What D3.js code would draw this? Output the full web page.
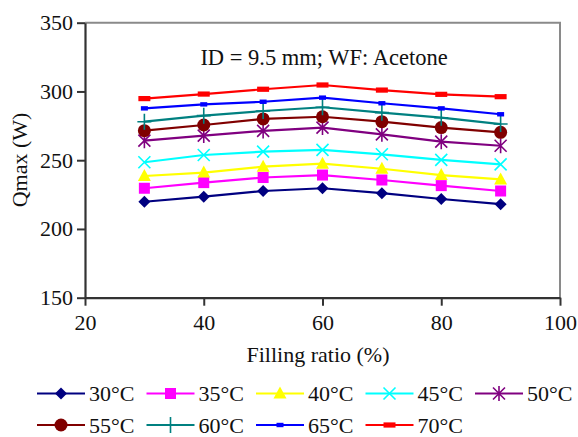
<!DOCTYPE html>
<html><head><meta charset="utf-8">
<script src="https://cdn.jsdelivr.net/npm/d3@7"></script>
<style>
body{margin:0;background:#fff}
</style>
</head><body><svg id="c" width="578" height="437"></svg>
<script>
const fillingRatio = [30, 40, 50, 60, 70, 80, 90];
const seriesNames = ["30°C","35°C","40°C","45°C","50°C","55°C","60°C","65°C","70°C"];
const q30 = [219.8, 223.5, 227.6, 229.6, 226.0, 221.8, 218.0];
const q35 = [229.6, 233.7, 237.4, 239.2, 235.6, 231.5, 227.6];
const q40 = [238.5, 241.0, 245.3, 247.5, 243.8, 239.2, 236.0];
const q45 = [248.5, 253.8, 256.2, 257.5, 254.3, 250.2, 247.0];
const q50 = [264.2, 267.9, 271.3, 273.7, 268.8, 263.5, 260.5];
const q55 = [271.5, 275.6, 280.0, 281.6, 278.0, 273.7, 270.3];
const q60 = [278.0, 282.4, 285.8, 288.5, 284.6, 280.9, 276.3];
const q65 = [287.7, 290.6, 292.5, 295.5, 291.4, 287.7, 283.4];
const q70 = [294.8, 298.1, 301.6, 304.7, 301.0, 297.9, 296.2];
const seriesValues = [q30, q35, q40, q45, q50, q55, q60, q65, q70];
const seriesColors = ["#000080","#ff00ff","#ffff00","#00ffff","#800080","#800000","#008080","#0000ff","#ff0000"];
const markerTypes = ["diamond","square","triangle","cross","star","circle","plus","dash","bar"];
const xTicks = [20, 40, 60, 80, 100];
const yTicks = [150, 200, 250, 300, 350];
const titleText = "ID = 9.5 mm; WF: Acetone";
const xTitle = "Filling ratio (%)";
const yTitle = "Qmax (W)";

const FONT = "'Liberation Serif', 'Times New Roman', Tinos, 'DejaVu Serif', serif";
const svg = d3.select("#c");
const L = 85, R = 560, T = 22.7, B = 297.7;
const x = d3.scaleLinear().domain([20, 100]).range([L, R]);
const y = d3.scaleLinear().domain([150, 350]).range([B, T]);

function txt(sel, size) {
  return sel.attr("font-family", FONT).style("font-family", FONT)
    .style("font-size", size + "px").attr("fill", "#111");
}

svg.append("path").attr("d", `M${L},${T}H${R}V${B}`).attr("fill","none")
  .attr("stroke","#8a8a8a").attr("stroke-width",2);

const ax = svg.append("g").attr("transform",`translate(0,${B})`)
  .call(d3.axisBottom(x).tickValues(xTicks).tickSize(8).tickSizeOuter(0).tickPadding(6));
const ay = svg.append("g").attr("transform",`translate(${L},0)`)
  .call(d3.axisLeft(y).tickValues(yTicks).tickSize(8).tickSizeOuter(0).tickPadding(4));
[ax, ay].forEach(g => {
  g.attr("font-family", FONT);
  g.select(".domain").attr("stroke","#333").attr("stroke-width",2.2);
  g.selectAll(".tick line").attr("stroke","#333").attr("stroke-width",2);
  txt(g.selectAll(".tick text"), 22);
});
ax.selectAll(".tick text").attr("dy","0.85em");

txt(svg.append("text").attr("x", 324).attr("y", 64.5).attr("text-anchor","middle"), 22.5).text(titleText);
txt(svg.append("text").attr("x", 318).attr("y", 362).attr("text-anchor","middle"), 22).text(xTitle);
txt(svg.append("text").attr("transform","translate(27,160) rotate(-90)").attr("text-anchor","middle"), 22).text(yTitle);

function drawMarker(g, type, color, cx, cy) {
  const m = g.append("g").attr("transform",`translate(${cx},${cy})`);
  switch (type) {
    case "diamond": m.append("path").attr("d","M0,-6L6,0L0,6L-6,0Z").attr("fill",color); break;
    case "square": m.append("rect").attr("x",-5.5).attr("y",-5.5).attr("width",11).attr("height",11).attr("fill",color); break;
    case "triangle": m.append("path").attr("d","M0,-7L6.5,5L-6.5,5Z").attr("fill",color); break;
    case "cross": m.append("path").attr("d","M-6,-6L6,6M-6,6L6,-6").attr("stroke",color).attr("stroke-width",1.6); break;
    case "star": m.append("path").attr("d","M-6,-6L6,6M-6,6L6,-6M0,-7.5V7.5").attr("stroke",color).attr("stroke-width",1.6); break;
    case "circle": m.append("circle").attr("r",6.5).attr("fill",color); break;
    case "plus": m.append("path").attr("d","M0,-8V8M-7,0H7").attr("stroke",color).attr("stroke-width",1.6); break;
    case "dash": m.append("rect").attr("x",-3.5).attr("y",-2.2).attr("width",7).attr("height",4.4).attr("fill",color); break;
    case "bar": m.append("rect").attr("x",-6).attr("y",-2.6).attr("width",12).attr("height",5.2).attr("fill",color); break;
  }
}

const line = d3.line().x((d,i) => x(fillingRatio[i])).y(d => y(d));
seriesValues.forEach((vals, s) => {
  const g = svg.append("g");
  g.append("path").attr("d", line(vals)).attr("fill","none")
    .attr("stroke", seriesColors[s]).attr("stroke-width", 2.2);
  vals.forEach((v, i) => drawMarker(g, markerTypes[s], seriesColors[s], x(fillingRatio[i]), y(v)));
});

const legX0 = 37, legDX = 109.5, legRowY = [393.5, 425], lineLen = 48;
seriesNames.forEach((name, s) => {
  const row = s < 5 ? 0 : 1, col = s < 5 ? s : s - 5;
  const lx = legX0 + col * legDX, ly = legRowY[row];
  const g = svg.append("g");
  g.append("line").attr("x1", lx).attr("x2", lx + lineLen).attr("y1", ly).attr("y2", ly)
    .attr("stroke", seriesColors[s]).attr("stroke-width", 2.2);
  drawMarker(g, markerTypes[s], seriesColors[s], lx + lineLen / 2, ly);
  txt(g.append("text").attr("x", lx + lineLen + 4).attr("y", ly + 7.5), 22).text(name);
});
</script></body></html>
